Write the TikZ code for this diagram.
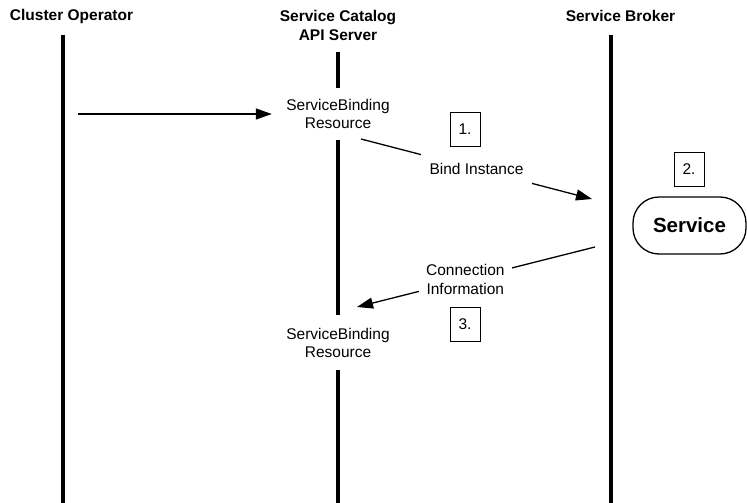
\documentclass[tikz,border=0pt]{standalone}
\usepackage{fontspec}
\setmainfont{Liberation Sans}
\usetikzlibrary{arrows.meta}

\tikzset{
  lifeline/.style={line width=4pt},
  actor/.style={font=\fontsize{15.5}{19}\selectfont\bfseries, align=center},
  resource/.style={fill=white, inner sep=0pt, minimum width=132, align=center,
    font=\fontsize{15.5}{18}\selectfont},
  msg/.style={line width=1.3pt, -{Triangle[length=16pt,width=11pt]}},
  msglabel/.style={fill=white, inner xsep=7pt, inner ysep=5pt, align=center,
    font=\fontsize{15.5}{19}\selectfont},
  stepno/.style={draw, line width=0.9pt, minimum width=30, minimum height=34,
    inner sep=0pt, font=\fontsize{15.5}{18}\selectfont}
}

\begin{document}
\begin{tikzpicture}[x=1pt,y=-1pt]
\useasboundingbox (0,0) rectangle (747,503);

% actors
\node[actor] (op) at (71.5,16) {Cluster Operator};
\node[actor] (api) at (338,25.5) {Service Catalog\\API Server};
\node[actor] (broker) at (620.5,16) {Service Broker};

% lifelines
\draw[lifeline] (63,35) -- (63,503);
\draw[lifeline] (338,52) -- (338,503);
\draw[lifeline] (611,35) -- (611,503);

% resources on the api server
\node[resource, minimum height=52] (res1) at (338,114) {ServiceBinding\\Resource};
\node[resource, minimum height=55] (res2) at (338,342.5) {ServiceBinding\\Resource};

% service
\node[draw, line width=1.3pt, rounded corners=26pt, minimum width=113,
  minimum height=57, font=\fontsize{20.5}{24}\selectfont\bfseries]
  (svc) at (689.5,225.5) {Service};

% steps
\node[stepno] (s1) at (465,129) {1.};
\node[stepno] (s2) at (689,169) {2.};
\node[stepno] (s3) at (465,324.5) {3.};

% messages
\coordinate (opout) at (78,114);
\coordinate (bindfrom) at (361,139);
\coordinate (bindto) at (592,199);
\coordinate (connfrom) at (595,247);
\coordinate (connto) at (357,307);

\draw[msg] (opout) -- (res1.west);
\draw[msg] (bindfrom) -- node[msglabel, pos=0.5, inner xsep=9pt, inner ysep=9pt] (bind) {Bind Instance} (bindto);
\draw[msg] (connfrom) -- node[msglabel, pos=0.545] (conn) {Connection\\Information} (connto);
\end{tikzpicture}
\end{document}
